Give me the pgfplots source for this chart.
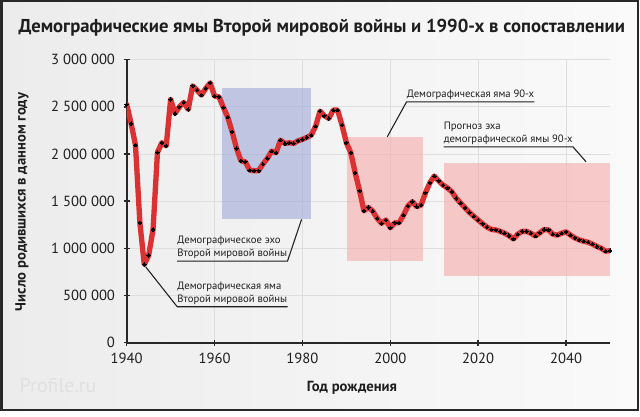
\documentclass[border=0pt]{standalone}
\usepackage{fontspec}
\setmainfont{PT Sans}
\usepackage{pgfplots}
\pgfplotsset{compat=1.18}
\definecolor{bgl}{RGB}{236,236,236}
\definecolor{bgr}{RGB}{250,250,250}
\definecolor{frame}{RGB}{40,40,40}
\definecolor{gridc}{RGB}{222,222,222}
\definecolor{redline}{RGB}{218,50,50}
\definecolor{bluebox}{RGB}{160,168,215}
\definecolor{pinkbox}{RGB}{247,169,169}
\definecolor{txt}{RGB}{30,30,30}
\definecolor{wm}{RGB}{224,224,224}
\pgfplotstableread{
year births
1940 2525000
1941 2324000
1942 2094000
1943 1271000
1944 830000
1945 926000
1946 1201000
1947 2017000
1948 2119000
1949 2087000
1950 2578000
1951 2430000
1952 2500000
1953 2547000
1954 2472000
1955 2722000
1956 2677000
1957 2624000
1958 2695000
1959 2754000
1960 2613000
1961 2606000
1962 2494000
1963 2390000
1964 2235000
1965 2059000
1966 1928000
1967 1917000
1968 1829000
1969 1822000
1970 1822000
1971 1893000
1972 1953000
1973 2031000
1974 2013000
1975 2147000
1976 2112000
1977 2119000
1978 2112000
1979 2140000
1980 2155000
1981 2176000
1982 2200000
1983 2295000
1984 2454000
1985 2405000
1986 2377000
1987 2465000
1988 2465000
1989 2306000
1990 2119000
1991 2013000
1992 1801000
1993 1610000
1994 1398000
1995 1434000
1996 1395000
1997 1318000
1998 1265000
1999 1300000
2000 1218000
2001 1271000
2002 1271000
2003 1353000
2004 1448000
2005 1494000
2006 1441000
2007 1459000
2008 1589000
2009 1695000
2010 1766000
2011 1715000
2012 1670000
2013 1640000
2014 1600000
2015 1530000
2016 1480000
2017 1430000
2018 1380000
2019 1340000
2020 1300000
2021 1260000
2022 1225000
2023 1200000
2024 1195000
2025 1180000
2026 1160000
2027 1135000
2028 1100000
2029 1150000
2030 1180000
2031 1180000
2032 1160000
2033 1130000
2034 1165000
2035 1200000
2036 1195000
2037 1150000
2038 1140000
2039 1160000
2040 1175000
2041 1140000
2042 1110000
2043 1090000
2044 1075000
2045 1065000
2046 1045000
2047 1020000
2048 1000000
2049 970000
2050 975000
}\births
\begin{document}
\begin{tikzpicture}[x=0.75pt,y=0.75pt]
\useasboundingbox (0,0) rectangle (640,417);
\fill[white] (0,0) rectangle (640,417);
\shade[left color=bgl, right color=bgr] (1,6) rectangle (638,416);
\draw[line width=1.5pt, color=frame] (1.5,6.5) rectangle (637.5,415.5);
\node[anchor=base west, font=\fontsize{15}{18}\selectfont, text=wm] at (15,24) {Profile.ru};
\begin{axis}[
  at={(95.025pt,55.725pt)}, anchor=south west,
  scale only axis,
  width=362.5pt, height=212.3pt,
  xmin=1940, xmax=2050, ymin=0, ymax=3000000,
  axis x line=bottom, axis y line=left,
  axis line style={-, line width=1.5pt, color=frame},
  xtick={1940,1960,1980,2000,2020,2040},
  xticklabels={1940,1960,1980,2000,2020,2040},
  ytick={0,500000,1000000,1500000,2000000,2500000,3000000},
  yticklabels={0,500 000,1 000 000,1 500 000,2 000 000,2 500 000,3 000 000},
  scaled y ticks=false,
  tick align=center,
  major tick length=4.5pt,
  tick style={line width=1.2pt, color=frame},
  grid=major,
  grid style={line width=0.6pt, color=gridc},
  ticklabel style={font=\fontsize{11}{13}\selectfont, text=txt},
  yticklabel style={xshift=-3pt},
  xticklabel style={yshift=-2pt},
]
\fill[bluebox, fill opacity=0.6] (axis cs:1961.8,1307000) rectangle (axis cs:1982,2695000);
\fill[pinkbox, fill opacity=0.6] (axis cs:1990.1,866000) rectangle (axis cs:2007.4,2176000);
\fill[pinkbox, fill opacity=0.6] (axis cs:2012.1,710000) rectangle (axis cs:2050,1907000);
\addplot[redline, line width=4pt, line join=round, line cap=round,
  mark=*, mark size=1.3pt, mark options={black, line width=0pt, fill=black}]
  table[x=year, y=births] {\births};
\begin{scope}[every node/.style={font=\fontsize{8}{9.6}\selectfont, text=txt, inner xsep=0pt, inner ysep=1.5pt, align=left}]
\node[anchor=south west] (a1) at (axis cs:2003.7,2553000) {Демографическая яма 90-х};
\draw[line width=0.8pt, color=txt] (axis cs:1999.3,2182000) -- (a1.south west) -- (a1.south east);
\node[anchor=south west] (a2) at (axis cs:2012.1,2076000) {Прогноз эха\\демографической ямы 90-х};
\draw[line width=0.8pt, color=txt] (a2.south west) -- (a2.south east) -- (axis cs:2044.55,1917000);
\node[anchor=south west] (a3) at (axis cs:1951.5,865000) {Демографическое эхо\\Второй мировой войны};
\draw[line width=0.8pt, color=txt] (a3.south west) -- (a3.south east) -- (axis cs:1979.8,1307000);
\node[anchor=south west] (a4) at (axis cs:1951.5,381000) {Демографическая яма\\Второй мировой войны};
\draw[line width=0.8pt, color=txt] (axis cs:1944.3,805000) -- (a4.south west) -- (a4.south east);
\end{scope}
\end{axis}
\node[anchor=base west, font=\bfseries\fontsize{14}{17}\selectfont, text=txt] at (14,384.7) {Демографические ямы Второй мировой войны и 1990-х в сопоставлении};
\node[rotate=90, font=\bfseries\fontsize{11}{13}\selectfont, text=txt] at (22,215) {Число родившихся в данном году};
\node[font=\bfseries\fontsize{11}{13}\selectfont, text=txt] at (352,29) {Год рождения};
\end{tikzpicture}
\end{document}
